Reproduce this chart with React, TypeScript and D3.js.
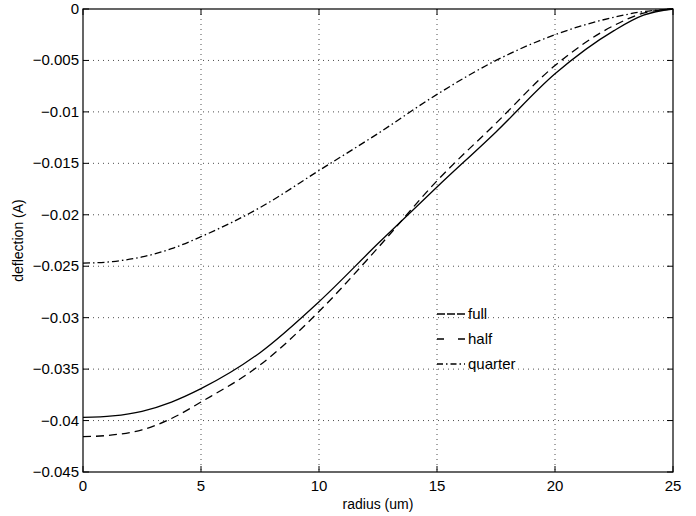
import React from "react";
import * as d3 from "d3";

const radius = [0, 1.25, 2.5, 3.75, 5, 7.5, 10, 12.5, 15, 17.5, 20, 22.5, 23.75, 25];
const full = [-0.0397, -0.03955, -0.0391, -0.0382, -0.0369, -0.0334, -0.02845, -0.0228, -0.0173, -0.01195, -0.0063, -0.0021, -0.0006, 0];
const half = [-0.04157, -0.0414, -0.0409, -0.0398, -0.0382, -0.0346, -0.0294, -0.0232, -0.0167, -0.0111, -0.0055, -0.0016, -0.0004, 0];
const quarter = [-0.0247, -0.02455, -0.0241, -0.0233, -0.02213, -0.0193, -0.0157, -0.0121, -0.0083, -0.005, -0.0025, -0.0008, -0.00025, 0];

const xTicks = [0, 5, 10, 15, 20, 25];
const yTicks = [0, -0.005, -0.01, -0.015, -0.02, -0.025, -0.03, -0.035, -0.04, -0.045];

const seriesNames = ["full", "half", "quarter"];
const seriesDash = ["none", "8,5", "7,3,1.5,3"];

export default function App() {
  const W = 696, H = 516;
  const left = 83, right = 673, top = 9, bottom = 472;
  const x = d3.scaleLinear().domain([0, 25]).range([left, right]);
  const y = d3.scaleLinear().domain([-0.045, 0]).range([bottom, top]);
  const line = d3
    .line<number>()
    .x((_, i) => x(radius[i]))
    .y((d) => y(d))
    .curve(d3.curveMonotoneX);
  const allSeries = [full, half, quarter];
  const font = "'Liberation Sans', Arial, Helvetica, sans-serif";
  const fmtY = (v: number) => (v === 0 ? "0" : "\u2212" + String(Math.abs(v)));
  const legendRows = [314, 339, 364];

  return (
    <svg width={W} height={H} style={{ position: "absolute", left: 0, top: 0, background: "#fff" }} fontFamily={font}>
      <rect x={0} y={0} width={W} height={H} fill="#fff" />
      {xTicks.slice(1, -1).map((t) => (
        <line key={"gx" + t} x1={x(t)} x2={x(t)} y1={top} y2={bottom} stroke="#222" strokeWidth={0.8} strokeDasharray="1,4" />
      ))}
      {yTicks.slice(1, -1).map((t) => (
        <line key={"gy" + t} x1={left} x2={right} y1={y(t)} y2={y(t)} stroke="#222" strokeWidth={0.8} strokeDasharray="1,4" />
      ))}
      {allSeries.map((s, i) => (
        <path key={"s" + i} d={line(s) || ""} fill="none" stroke="#000" strokeWidth={1.3} strokeDasharray={seriesDash[i]} />
      ))}
      <rect x={left} y={top} width={right - left} height={bottom - top} fill="none" stroke="#000" strokeWidth={1.2} />
      {xTicks.map((t) => (
        <g key={"xt" + t}>
          <line x1={x(t)} x2={x(t)} y1={bottom} y2={bottom - 6} stroke="#000" />
          <line x1={x(t)} x2={x(t)} y1={top} y2={top + 6} stroke="#000" />
          <text x={x(t)} y={491} fontSize={15} textAnchor="middle" fill="#000">{t}</text>
        </g>
      ))}
      {yTicks.map((t) => (
        <g key={"yt" + t}>
          <line x1={left} x2={left + 6} y1={y(t)} y2={y(t)} stroke="#000" />
          <line x1={right} x2={right - 6} y1={y(t)} y2={y(t)} stroke="#000" />
          <text x={79} y={y(t) + 5} fontSize={15} textAnchor="end" fill="#000">{fmtY(t)}</text>
        </g>
      ))}
      <text x={(left + right) / 2} y={509} fontSize={14} textAnchor="middle" fill="#000">radius (um)</text>
      <text transform={`translate(23,${(top + bottom) / 2}) rotate(-90)`} fontSize={14} textAnchor="middle" fill="#000">deflection (A)</text>
      {seriesNames.map((n, i) => (
        <g key={"lg" + n}>
          <line x1={437} x2={465} y1={legendRows[i]} y2={legendRows[i]} stroke="#000" strokeWidth={1.3} strokeDasharray={i === 0 ? "8,2" : i === 1 ? "7,14" : "6,3,1.5,3"} />
          <text x={468} y={legendRows[i] + 5} fontSize={15} fill="#000">{n}</text>
        </g>
      ))}
    </svg>
  );
}
